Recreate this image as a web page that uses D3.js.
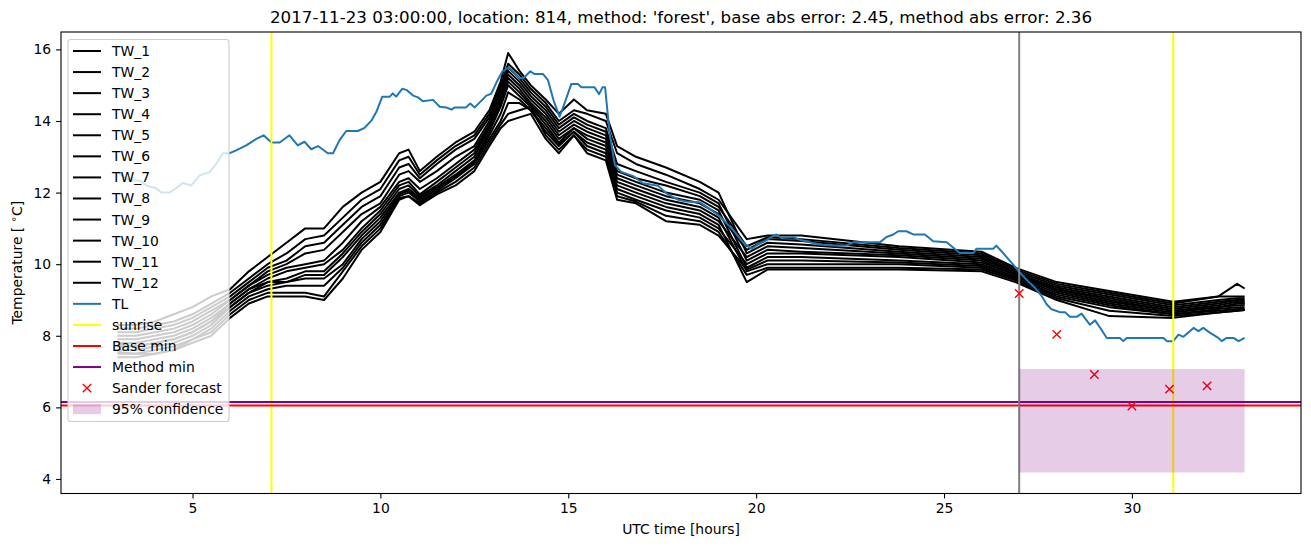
<!DOCTYPE html>
<html>
<head>
<meta charset="utf-8">
<script src="https://cdn.jsdelivr.net/npm/d3@7"></script>
<style>
  html, body { margin: 0; padding: 0; background: #fff; }
  svg { display: block; font-family: "DejaVu Sans", sans-serif; }
</style>
</head>
<body>
<svg id="chart" width="1311" height="547"></svg>
<script>
const twTimes = [3.0, 3.5, 4.0, 4.5, 5.0, 5.5, 6.0, 6.5, 7.0, 7.5, 8.0, 8.5, 9.0, 9.5, 10.0, 10.5, 10.75, 11.05, 11.5, 12.0,
  12.5, 12.9, 13.2, 13.4, 13.7, 14.0, 14.4, 14.75, 15.15, 15.5, 16.0, 16.3, 16.8, 17.6, 18.5, 19.0,
  19.75, 20.3, 21.2, 23.8, 26.0, 26.9, 28.0, 29.4, 31.1, 32.3, 32.8, 33.0];

const TW_1 = [8.3, 8.3, 8.4, 8.6, 8.8, 9.1, 9.3, 9.8, 10.2, 10.6, 11.0, 11.0, 11.6, 12.0, 12.3, 13.1, 13.2, 12.6, 13.0, 13.4,
  13.7, 14.3, 15.1, 15.9, 15.4, 15.0, 14.6, 14.2, 14.6, 14.3, 14.2, 13.3, 13.0, 12.7, 12.3, 12.0,
  10.3, 10.6, 10.55, 10.35, 10.2, 9.75, 9.35, 9.1, 8.8, 8.95, 9.0, 9.0];
const TW_2 = [8.2, 8.2, 8.3, 8.4, 8.6, 8.9, 9.2, 9.6, 10.0, 10.3, 10.7, 10.8, 11.3, 11.8, 12.1, 12.9, 13.0, 12.5, 12.9, 13.3,
  13.6, 14.2, 15.0, 15.6, 15.3, 14.9, 14.5, 14.0, 14.3, 14.2, 14.0, 13.1, 12.8, 12.5, 12.1, 11.8,
  10.7, 10.8, 10.8, 10.5, 10.35, 9.9, 9.5, 9.25, 8.95, 9.1, 9.45, 9.32];
const TW_3 = [8.1, 8.1, 8.2, 8.3, 8.5, 8.8, 9.1, 9.5, 9.9, 10.1, 10.5, 10.6, 11.1, 11.6, 11.9, 12.7, 12.8, 12.4, 12.8, 13.2,
  13.5, 14.1, 14.9, 15.5, 15.2, 14.8, 14.4, 13.9, 14.2, 14.0, 13.8, 12.8, 12.6, 12.3, 12.0, 11.7,
  10.1, 10.4, 10.35, 10.25, 10.1, 9.7, 9.3, 9.0, 8.7, 8.85, 8.95, 8.9];
const TW_4 = [8.0, 8.0, 8.1, 8.2, 8.4, 8.7, 9.0, 9.4, 9.8, 10.0, 10.3, 10.4, 10.9, 11.4, 11.7, 12.5, 12.6, 12.3, 12.6, 13.0,
  13.3, 14.0, 14.8, 15.4, 15.1, 14.7, 14.3, 13.8, 14.1, 13.9, 13.7, 12.6, 12.4, 12.2, 11.9, 11.6,
  10.5, 10.75, 10.7, 10.45, 10.3, 9.85, 9.45, 9.2, 8.9, 9.1, 9.1, 9.1];
const TW_5 = [7.9, 7.9, 8.0, 8.1, 8.3, 8.6, 9.0, 9.4, 9.7, 9.9, 10.0, 10.1, 10.6, 11.2, 11.6, 12.3, 12.4, 12.1, 12.4, 12.8,
  13.2, 13.9, 14.7, 15.3, 15.0, 14.6, 14.2, 13.7, 14.0, 13.8, 13.6, 12.5, 12.3, 12.0, 11.8, 11.5,
  9.9, 10.2, 10.2, 10.1, 10.0, 9.65, 9.2, 8.9, 8.65, 8.8, 8.85, 8.85];
const TW_6 = [7.8, 7.8, 7.9, 8.0, 8.2, 8.5, 8.9, 9.3, 9.6, 9.8, 9.9, 10.0, 10.4, 11.0, 11.5, 12.2, 12.3, 11.95, 12.3, 12.7,
  13.1, 13.85, 14.6, 15.2, 14.9, 14.5, 14.1, 13.6, 13.9, 13.7, 13.5, 12.4, 12.2, 11.9, 11.7, 11.4,
  10.4, 10.7, 10.65, 10.4, 10.25, 9.8, 9.4, 9.15, 8.85, 9.0, 9.05, 9.05];
const TW_7 = [7.75, 7.7, 7.8, 7.9, 8.1, 8.4, 8.9, 9.3, 9.5, 9.6, 9.8, 9.8, 10.3, 10.9, 11.4, 12.1, 12.2, 11.9, 12.2, 12.6,
  13.0, 13.8, 14.5, 15.1, 14.8, 14.45, 14.0, 13.5, 13.8, 13.6, 13.4, 12.3, 12.1, 11.8, 11.6, 11.3,
  9.8, 10.0, 10.0, 10.0, 9.9, 9.6, 9.1, 8.8, 8.6, 8.7, 8.75, 8.75];
const TW_8 = [7.7, 7.7, 7.8, 7.9, 8.1, 8.4, 8.8, 9.2, 9.5, 9.5, 9.7, 9.7, 10.2, 10.8, 11.3, 12.0, 12.1, 11.85, 12.15, 12.5,
  12.9, 13.7, 14.4, 15.0, 14.7, 14.4, 13.9, 13.4, 13.8, 13.5, 13.3, 12.2, 12.0, 11.7, 11.5, 11.2,
  10.2, 10.5, 10.45, 10.3, 10.15, 9.75, 9.3, 9.05, 8.75, 8.9, 9.0, 8.95];
const TW_9 = [7.6, 7.6, 7.7, 7.8, 8.0, 8.3, 8.8, 9.2, 9.4, 9.5, 9.6, 9.6, 10.0, 10.7, 11.2, 11.95, 12.05, 11.8, 12.1, 12.45,
  12.85, 13.6, 14.2, 14.8, 14.6, 14.3, 13.8, 13.35, 13.7, 13.4, 13.2, 12.1, 11.9, 11.6, 11.4, 11.1,
  9.5, 9.85, 9.85, 9.85, 9.8, 9.5, 9.0, 8.55, 8.5, 8.65, 8.7, 8.72];
const TW_10 = [7.55, 7.5, 7.6, 7.7, 7.9, 8.2, 8.7, 9.1, 9.3, 9.4, 9.4, 9.4, 9.9, 10.6, 11.1, 11.9, 12.0, 11.75, 12.05, 12.4,
  12.8, 13.5, 14.0, 14.5, 14.5, 14.3, 13.7, 13.3, 13.7, 13.3, 13.1, 12.0, 11.8, 11.5, 11.3, 11.0,
  10.0, 10.3, 10.3, 10.2, 10.05, 9.7, 9.25, 8.95, 8.7, 8.8, 8.9, 8.9];
const TW_11 = [7.5, 7.5, 7.5, 7.6, 7.9, 8.1, 8.6, 9.0, 9.2, 9.2, 9.2, 9.1, 9.8, 10.5, 11.0, 11.85, 11.9, 11.7, 12.0, 12.3,
  12.7, 13.4, 13.9, 14.2, 14.3, 14.4, 13.6, 13.2, 13.6, 13.2, 13.0, 11.9, 11.75, 11.35, 11.2, 10.9,
  9.7, 9.9, 9.9, 9.9, 9.85, 9.55, 9.05, 8.7, 8.55, 8.65, 8.7, 8.72];
const TW_12 = [7.4, 7.4, 7.5, 7.6, 7.8, 8.0, 8.5, 8.9, 9.1, 9.1, 9.1, 9.0, 9.6, 10.4, 10.9, 11.8, 11.9, 11.65, 11.95, 12.2,
  12.6, 13.3, 13.8, 14.0, 14.1, 14.2, 13.5, 13.1, 13.6, 13.1, 12.9, 11.8, 11.7, 11.2, 11.1, 10.8,
  9.85, 10.1, 10.1, 10.05, 9.95, 9.6, 9.15, 8.85, 8.6, 8.75, 8.8, 8.8];

const twSeries = [TW_1, TW_2, TW_3, TW_4, TW_5, TW_6, TW_7, TW_8, TW_9, TW_10, TW_11, TW_12];

// TL (blue) trace
const tlTimes = [3.0, 3.32, 3.59, 3.77, 4.03, 4.17, 4.39, 4.52, 4.74, 4.97, 5.19, 5.45, 5.63, 5.81, 5.99, 6.16, 6.43, 6.7, 6.89, 7.1,
  7.32, 7.58, 7.8, 7.98, 8.16, 8.34, 8.6, 8.74, 8.91, 9.09, 9.4, 9.58, 9.76, 9.89, 10.05, 10.25, 10.33, 10.42, 10.58, 10.69,
  10.87, 11.0, 11.13, 11.4, 11.58, 11.75, 11.89, 11.98, 12.28, 12.39, 12.51, 12.69, 12.82, 12.95, 13.09, 13.25, 13.42, 13.53, 13.69, 13.81,
  13.99, 14.1, 14.33, 14.46, 14.61, 14.77, 14.9, 15.08, 15.26, 15.35, 15.7, 15.82, 15.91, 15.98, 16.1, 16.24, 16.41, 16.73, 16.99, 17.39,
  17.61, 17.92, 18.14, 18.5, 18.77, 19.03, 19.39, 19.65, 19.87, 20.05, 20.23, 20.41, 20.54, 20.68, 20.99, 21.16, 21.43, 21.69, 22.05, 22.4,
  22.58, 23.29, 23.47, 23.65, 23.78, 24.0, 24.18, 24.49, 24.71, 25.07, 25.42, 25.78, 25.86, 26.31, 26.39, 26.53, 26.84, 27.02, 27.24, 27.42,
  27.6, 27.73, 27.86, 28.08, 28.22, 28.35, 28.53, 28.66, 28.88, 29.02, 29.19, 29.33, 29.68, 29.77, 29.86, 30.84, 30.93, 31.1, 31.24, 31.37,
  31.64, 31.77, 31.9, 32.08, 32.3, 32.39, 32.52, 32.7, 32.84, 33.0];
const tlValues = [12.57, 12.34, 12.34, 12.2, 12.12, 12.0, 12.0, 12.09, 12.27, 12.2, 12.48, 12.57, 12.8, 13.1, 13.1, 13.18, 13.32, 13.5, 13.6, 13.4,
  13.4, 13.6, 13.32, 13.42, 13.21, 13.3, 13.1, 13.1, 13.46, 13.72, 13.72, 13.81, 14.01, 14.25, 14.68, 14.68, 14.77, 14.68, 14.9, 14.87,
  14.71, 14.66, 14.55, 14.59, 14.4, 14.38, 14.32, 14.38, 14.38, 14.49, 14.38, 14.57, 14.71, 14.76, 15.08, 15.39, 15.5, 15.39, 15.2, 15.2,
  15.39, 15.31, 15.31, 15.14, 14.57, 14.12, 14.49, 15.03, 15.03, 14.94, 14.94, 14.75, 14.94, 14.94, 13.66, 12.77, 12.58, 12.46, 12.26, 12.19,
  11.98, 11.8, 11.75, 11.73, 11.54, 11.34, 10.95, 10.61, 10.43, 10.55, 10.64, 10.76, 10.83, 10.73, 10.76, 10.68, 10.61, 10.55, 10.52, 10.52,
  10.61, 10.61, 10.76, 10.83, 10.92, 10.92, 10.83, 10.83, 10.64, 10.61, 10.31, 10.31, 10.43, 10.43, 10.52, 10.36, 9.99, 9.76, 9.52, 9.34,
  9.11, 8.88, 8.74, 8.66, 8.66, 8.53, 8.53, 8.62, 8.31, 8.43, 8.17, 7.94, 7.94, 7.85, 7.94, 7.94, 7.85, 7.85, 8.03, 7.97,
  8.22, 8.13, 8.22, 8.08, 7.94, 7.85, 7.94, 7.94, 7.85, 7.94];

const sunriseTimes = [7.1, 31.1];
const forecastStart = 27;
const baseMin = 6.05;
const methodMin = 6.15;
const sanderTimes = [27, 28, 29, 30, 31, 32];
const sanderValues = [9.18, 8.04, 6.92, 6.04, 6.51, 6.60];
const confidence = { t0: 27, t1: 33, lo: 4.18, hi: 7.07 };

const xTicks = [5, 10, 15, 20, 25, 30];
const yTicks = [4, 6, 8, 10, 12, 14, 16];

const legendLabels = ['TW_1', 'TW_2', 'TW_3', 'TW_4', 'TW_5', 'TW_6', 'TW_7', 'TW_8', 'TW_9', 'TW_10', 'TW_11', 'TW_12',
  'TL', 'sunrise', 'Base min', 'Method min', 'Sander forecast', '95% confidence'];

const titleText = "2017-11-23 03:00:00, location: 814, method: 'forest', base abs error: 2.45, method abs error: 2.36";

// ---- layout ----
const box = { left: 61, right: 1301, top: 32, bottom: 493.5 };
const colors = { tl: '#1f77b4', tw: '#000000', sunrise: '#ffff00', base: '#ff0000', method: '#800080', gray: '#808080' };

const svg = d3.select('#chart');

const x = d3.scaleLinear().domain([1.5, 34.5]).range([box.left, box.right]);
const y = d3.scaleLinear().domain([3.594, 16.486]).range([box.bottom, box.top]);

svg.append('defs').append('clipPath').attr('id', 'plotClip')
  .append('rect')
  .attr('x', box.left).attr('y', box.top)
  .attr('width', box.right - box.left).attr('height', box.bottom - box.top);

const plot = svg.append('g').attr('clip-path', 'url(#plotClip)');

const line = d3.line().x(d => x(d[0])).y(d => y(d[1]));

// TW lines
twSeries.forEach(vals => {
  plot.append('path')
    .datum(twTimes.map((t, i) => [t, vals[i]]))
    .attr('d', line)
    .attr('fill', 'none')
    .attr('stroke', colors.tw)
    .attr('stroke-width', 2)
    .attr('stroke-linejoin', 'round');
});

// TL
plot.append('path')
  .datum(tlTimes.map((t, i) => [t, tlValues[i]]))
  .attr('d', line)
  .attr('fill', 'none')
  .attr('stroke', colors.tl)
  .attr('stroke-width', 2)
  .attr('stroke-linejoin', 'round');

// sunrise
sunriseTimes.forEach(t => {
  plot.append('line')
    .attr('x1', x(t)).attr('x2', x(t))
    .attr('y1', box.top).attr('y2', box.bottom)
    .attr('stroke', colors.sunrise).attr('stroke-width', 2);
});

// base / method min
[[baseMin, colors.base], [methodMin, colors.method]].forEach(([v, c]) => {
  plot.append('line')
    .attr('x1', box.left).attr('x2', box.right)
    .attr('y1', y(v)).attr('y2', y(v))
    .attr('stroke', c).attr('stroke-width', 2);
});

// forecast start
plot.append('line')
  .attr('x1', x(forecastStart)).attr('x2', x(forecastStart))
  .attr('y1', box.top).attr('y2', box.bottom)
  .attr('stroke', colors.gray).attr('stroke-width', 2);

// Sander forecast crosses
function drawCross(g, cx, cy, r) {
  g.append('path')
    .attr('d', `M${cx - r},${cy - r}L${cx + r},${cy + r}M${cx - r},${cy + r}L${cx + r},${cy - r}`)
    .attr('stroke', colors.base).attr('stroke-width', 1.4).attr('fill', 'none');
}
sanderTimes.forEach((t, i) => drawCross(plot, x(t), y(sanderValues[i]), 4.2));

// 95% confidence
plot.append('rect')
  .attr('x', x(confidence.t0)).attr('width', x(confidence.t1) - x(confidence.t0))
  .attr('y', y(confidence.hi)).attr('height', y(confidence.lo) - y(confidence.hi))
  .attr('fill', colors.method).attr('fill-opacity', 0.2);

// ---- axes ----
const xAxis = d3.axisBottom(x).tickValues(xTicks).tickSizeInner(4.9).tickSizeOuter(0).tickPadding(4.9);
const yAxis = d3.axisLeft(y).tickValues(yTicks).tickSizeInner(4.9).tickSizeOuter(0).tickPadding(4.9);

const gx = svg.append('g').attr('transform', `translate(0,${box.bottom})`).call(xAxis);
const gy = svg.append('g').attr('transform', `translate(${box.left},0)`).call(yAxis);
[gx, gy].forEach(g => {
  g.select('.domain').remove();
  g.selectAll('.tick line').attr('stroke', '#000').attr('stroke-width', 1.1);
  g.selectAll('.tick text').attr('fill', '#000').style('font-size', '13.9px').style('font-family', '"DejaVu Sans", sans-serif');
});

svg.append('rect')
  .attr('x', box.left).attr('y', box.top)
  .attr('width', box.right - box.left).attr('height', box.bottom - box.top)
  .attr('fill', 'none').attr('stroke', '#000').attr('stroke-width', 1.1);

// labels
svg.append('text')
  .attr('x', (box.left + box.right) / 2).attr('y', 23)
  .attr('text-anchor', 'middle')
  .style('font-size', '16.7px')
  .text(titleText);

svg.append('text')
  .attr('x', (box.left + box.right) / 2).attr('y', 534)
  .attr('text-anchor', 'middle')
  .style('font-size', '13.9px')
  .text('UTC time [hours]');

const ylab = svg.append('text')
  .attr('transform', `translate(22,${(box.top + box.bottom) / 2}) rotate(-90)`)
  .attr('text-anchor', 'middle')
  .style('font-size', '13.9px');
ylab.append('tspan').text('Temperature [ ');
ylab.append('tspan').text('\u2218').attr('dy', -5).style('font-size', '10px');
ylab.append('tspan').text('C]').attr('dy', 5);

// ---- legend ----
const leg = svg.append('g');
leg.append('rect')
  .attr('x', 68).attr('y', 39.5).attr('width', 161).attr('height', 382)
  .attr('rx', 2.8)
  .attr('fill', '#fff').attr('fill-opacity', 0.8)
  .attr('stroke', '#cccccc').attr('stroke-width', 1.1);

const legendStyle = i => {
  if (i < 12) return { kind: 'line', c: colors.tw };
  return [
    { kind: 'line', c: colors.tl },
    { kind: 'line', c: colors.sunrise },
    { kind: 'line', c: colors.base },
    { kind: 'line', c: colors.method },
    { kind: 'cross', c: colors.base },
    { kind: 'patch', c: colors.method }
  ][i - 12];
};

legendLabels.forEach((lab, i) => {
  const cy = 51 + i * 21.07;
  const st = legendStyle(i);
  if (st.kind === 'line') {
    leg.append('line').attr('x1', 73).attr('x2', 101).attr('y1', cy).attr('y2', cy)
      .attr('stroke', st.c).attr('stroke-width', 2);
  } else if (st.kind === 'cross') {
    drawCross(leg, 87, cy, 4.2);
  } else {
    leg.append('rect').attr('x', 73).attr('y', cy - 5).attr('width', 28).attr('height', 10)
      .attr('fill', st.c).attr('fill-opacity', 0.2);
  }
  leg.append('text').attr('x', 112).attr('y', cy + 5)
    .style('font-size', '13.9px')
    .text(lab);
});
</script>
</body>
</html>
